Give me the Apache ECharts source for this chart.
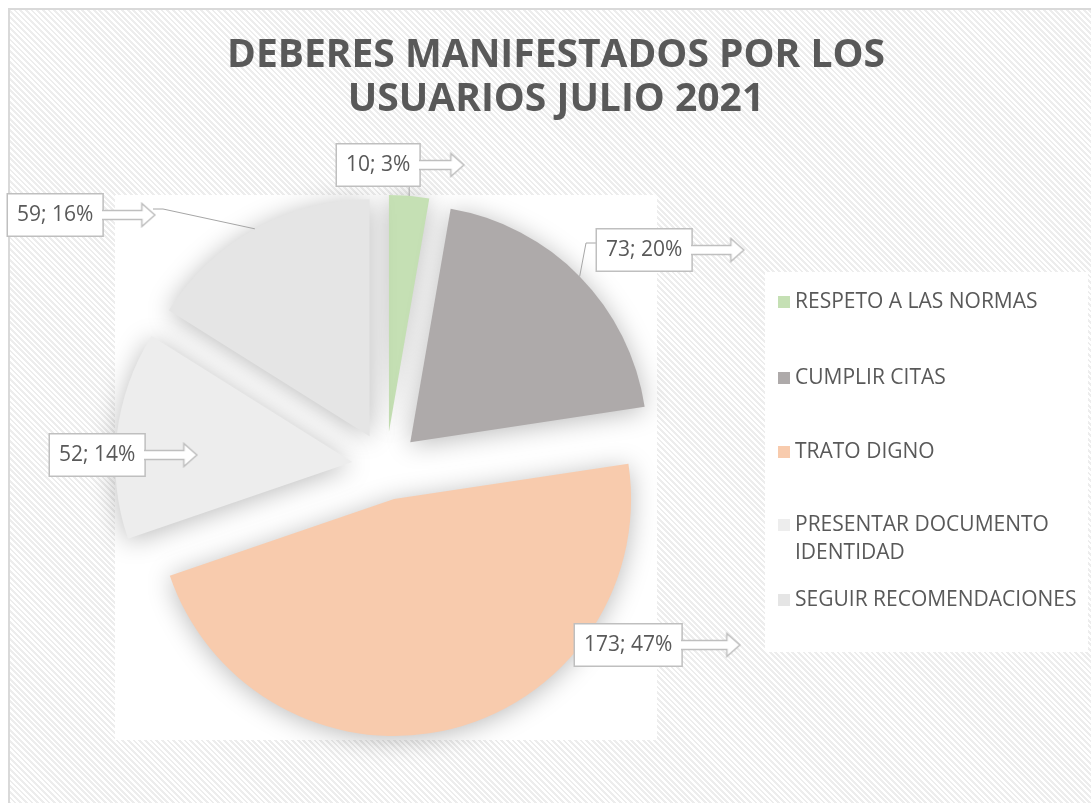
<!DOCTYPE html>
<html><head><meta charset="utf-8">
<script src="https://cdn.jsdelivr.net/npm/echarts@6/dist/echarts.min.js"></script>
<style>
html,body{margin:0;padding:0;background:#fff;overflow:hidden;width:1091px;height:803px}
#frame{position:absolute;left:8px;top:8px;width:1100px;height:820px;border:2px solid #d9d9d9;
background:repeating-linear-gradient(45deg,#ffffff 0px,#ffffff 2px,#ededed 2px,#ededed 4px);}
#chart{position:absolute;left:0;top:0;width:1091px;height:803px}
</style></head>
<body><div id="frame"></div><div id="chart"></div>
<script>
// ---- data ----
const categories = ['RESPETO A LAS NORMAS', 'CUMPLIR CITAS', 'TRATO DIGNO', 'PRESENTAR DOCUMENTO IDENTIDAD', 'SEGUIR RECOMENDACIONES'];
const values = [10, 73, 173, 52, 59];
const titleText = 'DEBERES MANIFESTADOS POR LOS\nUSUARIOS JULIO 2021';

// ---- styles / layout ----
const colors = ['#c5e0b4', '#aeaaaa', '#f8cbad', '#ededed', '#e5e5e5'];
const labelAnchors = [[337, 165], [597, 250], [575, 645], [50, 455], [8, 215]]; // box left, box middle
const arrowLens = [44, 52, 58, 52, 52];
const legendRows = [302, 378, 452, 525, 600];
const FONT = 'Open Sans';
const TXT = '#595959';

function makeArrow(len) {
  const c = document.createElement('canvas');
  c.width = len + 2; c.height = 26;
  const g = c.getContext('2d');
  const hb = len - 13;
  g.beginPath();
  g.moveTo(-3, 8.5); g.lineTo(hb + 0.5, 8.5); g.lineTo(hb + 0.5, 1.5); g.lineTo(len + 0.5, 13);
  g.lineTo(hb + 0.5, 24.5); g.lineTo(hb + 0.5, 17.5); g.lineTo(-3, 17.5); g.closePath();
  g.fillStyle = '#ffffff'; g.fill();
  g.strokeStyle = '#bfbfbf'; g.lineWidth = 1.5; g.stroke();
  return c;
}

const chart = echarts.init(document.getElementById('chart'), null, {renderer: 'canvas'});

const legends = categories.map((name, i) => {
  const twoLine = i === 3;
  return {
    data: [name],
    orient: 'vertical',
    left: 778,
    top: twoLine ? legendRows[i] - 42 : legendRows[i] - 14,
    padding: 0,
    itemWidth: 12, itemHeight: 12, itemGap: 0,
    icon: 'rect',
    selectedMode: false,
    formatter: twoLine ? (n => '\n' + n.replace(' IDENTIDAD', '\nIDENTIDAD')) : '{name}',
    textStyle: {color: TXT, fontSize: 21, fontFamily: FONT, lineHeight: 28}
  };
});

const bgRects = [
  {type: 'rect', z: -10, shape: {x: 115, y: 195, width: 542, height: 545}, style: {fill: '#ffffff'}},
  {type: 'rect', z: -10, shape: {x: 765, y: 272, width: 323, height: 380}, style: {fill: '#ffffff'}}
];

chart.setOption({
  animation: false,
  backgroundColor: 'transparent',
  title: {
    text: titleText,
    left: 556, top: 34, padding: 0,
    textAlign: 'center',
    textStyle: {color: TXT, fontSize: 39, fontWeight: 'bold', fontFamily: FONT, lineHeight: 44}
  },
  legend: legends,
  color: colors,
  graphic: bgRects,
  series: [{
    type: 'pie',
    center: [386, 466],
    radius: 237,
    startAngle: 90,
    clockwise: true,
    selectedMode: 'multiple',
    selectedOffset: 34,
    percentPrecision: 0,
    emphasis: {disabled: true},
    itemStyle: {shadowBlur: 26, shadowColor: 'rgba(0,0,0,0.27)', shadowOffsetY: 3},
    data: categories.map((n, i) => ({name: n, value: values[i], selected: true})),
    label: {show: false},
    labelLine: {show: false}
  }]
});

// data labels + leader lines, built from the library's own slice layout and percentages
const sModel = chart.getModel().getSeriesByIndex(0);
const sData = sModel.getData();
const off = sModel.get('selectedOffset');
function outerMid(i) {
  const L = sData.getItemLayout(i);
  const m = (L.startAngle + L.endAngle) / 2;
  return [L.cx + (L.r + off) * Math.cos(m), L.cy + (L.r + off) * Math.sin(m)];
}
const leaderEnds = {0: [[null, 183]], 1: [[586, 243], [597, 243]], 4: [[163, 209], [153, 209]]};
const extra = [];
Object.keys(leaderEnds).forEach(k => {
  const i = +k;
  const p0 = outerMid(i);
  const pts = [p0].concat(leaderEnds[k].map(q => [q[0] == null ? p0[0] : q[0], q[1]]));
  extra.push({type: 'polyline', z: 5, shape: {points: pts}, style: {stroke: '#a6a6a6', lineWidth: 1, fill: null}});
});
categories.forEach((n, i) => {
  const p = sModel.getDataParams(i);
  const a = labelAnchors[i];
  extra.push({
    type: 'text', z: 10, x: a[0], y: a[1],
    style: {
      text: '{box|' + p.value + '; ' + p.percent + '%}{arr|}',
      align: 'left', verticalAlign: 'middle',
      rich: {
        box: {fill: TXT, fontSize: 21, fontFamily: FONT, lineHeight: 22, backgroundColor: '#ffffff',
              borderColor: '#bfbfbf', borderWidth: 1.5, padding: [10, 9, 10, 9], verticalAlign: 'middle'},
        arr: {width: arrowLens[i] + 2, height: 26, backgroundColor: {image: makeArrow(arrowLens[i])}, verticalAlign: 'middle'}
      }
    }
  });
});
chart.setOption({graphic: bgRects.concat(extra)}, {replaceMerge: ['graphic']});
</script>
</body></html>
